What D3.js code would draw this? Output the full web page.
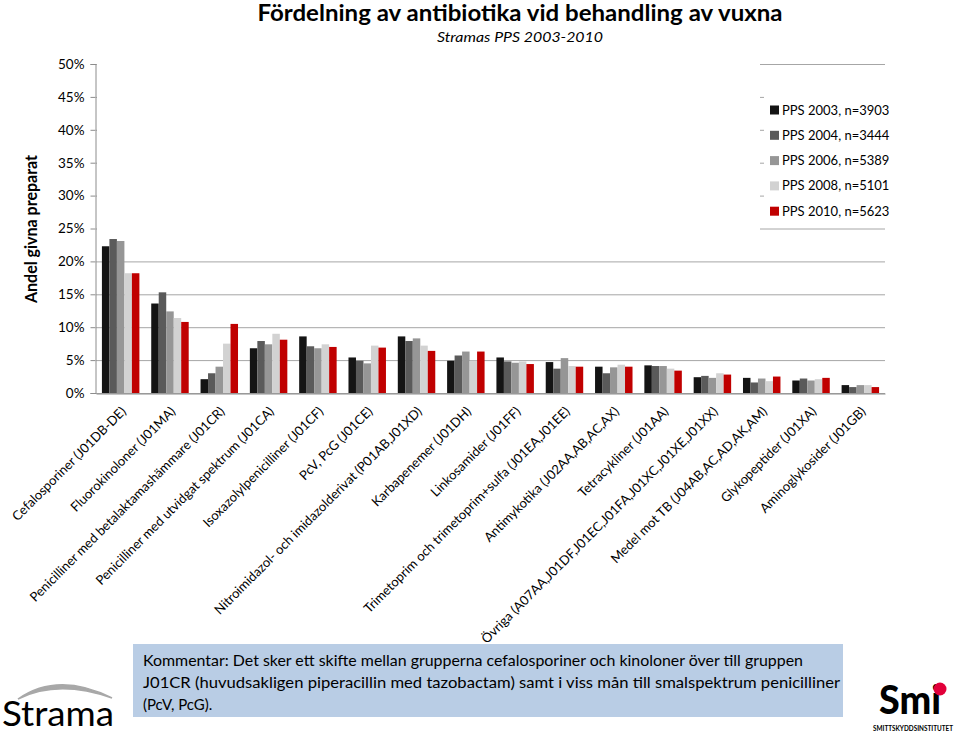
<!DOCTYPE html>
<html><head><meta charset="utf-8">
<script src="https://cdn.jsdelivr.net/npm/d3@7"></script>
<style>
body{margin:0;background:#fff;}
svg{display:block;}
text{font-family:Lato,"Open Sans",sans-serif;fill:#000;}
</style>
</head><body>
<svg id="chart" width="960" height="732"></svg>
<script>
const categories = [
  "Cefalosporiner (J01DB-DE)",
  "Fluorokinoloner (J01MA)",
  "Penicilliner med betalaktamashämmare (J01CR)",
  "Penicilliner med utvidgat spektrum (J01CA)",
  "Isoxazolylpenicilliner (J01CF)",
  "PcV, PcG (J01CE)",
  "Nitroimidazol- och imidazolderivat (P01AB,J01XD)",
  "Karbapenemer (J01DH)",
  "Linkosamider (J01FF)",
  "Trimetoprim och trimetoprim+sulfa (J01EA,J01EE)",
  "Antimykotika (J02AA,AB,AC,AX)",
  "Tetracykliner (J01AA)",
  "Övriga (A07AA,J01DF,J01EC,J01FA,J01XC,J01XE,J01XX)",
  "Medel mot TB (J04AB,AC,AD,AK,AM)",
  "Glykopeptider (J01XA)",
  "Aminoglykosider (J01GB)"
];
const seriesNames = ["PPS 2003, n=3903","PPS 2004, n=3444","PPS 2006, n=5389","PPS 2008, n=5101","PPS 2010, n=5623"];
const pps2003 = [22.3, 13.6, 2.1, 6.8, 8.6, 5.4, 8.6, 4.9, 5.4, 4.7, 4.0, 4.2, 2.4, 2.3, 1.9, 1.2];
const pps2004 = [23.4, 15.3, 3.0, 7.9, 7.1, 4.9, 7.9, 5.7, 4.8, 3.7, 3.0, 4.1, 2.6, 1.6, 2.2, 0.9];
const pps2006 = [23.1, 12.4, 4.0, 7.4, 6.8, 4.5, 8.3, 6.3, 4.6, 5.3, 3.9, 4.1, 2.3, 2.2, 1.9, 1.2];
const pps2008 = [18.2, 11.4, 7.5, 9.0, 7.4, 7.2, 7.2, 4.9, 4.8, 4.1, 4.3, 3.7, 3.0, 1.8, 2.1, 1.2];
const pps2010 = [18.2, 10.8, 10.5, 8.1, 7.0, 6.9, 6.4, 6.3, 4.4, 4.0, 4.0, 3.4, 2.8, 2.5, 2.3, 0.9];
const seriesValues = [pps2003, pps2004, pps2006, pps2008, pps2010];
const seriesColors = ["#141414","#5a5a5a","#969696","#d2d2d2","#c00000"];
const yTicks = [0,5,10,15,20,25,30,35,40,45,50];
const titleText = "Fördelning av antibiotika vid behandling av vuxna";
const subtitleText = "Stramas PPS 2003-2010";
const yTitleText = "Andel givna preparat";
const commentLines = [
  "Kommentar: Det sker ett skifte mellan grupperna cefalosporiner och kinoloner över till gruppen",
  "J01CR (huvudsakligen piperacillin med tazobactam) samt i viss mån till smalspektrum penicilliner",
  "(PcV, PcG)."
];

const svg = d3.select("#chart");
const pLeft = 96, pRight = 885, pTop = 64, pBottom = 393;
const y = d3.scaleLinear().domain([0,50]).range([pBottom, pTop]);
const x0 = d3.scaleBand().domain(categories).range([pLeft, pRight]);
const x1 = d3.scaleBand().domain(seriesNames).range([0, x0.bandwidth()]).paddingOuter(0.79);

// Gridlines
const grid = svg.append("g").attr("transform",`translate(${pLeft},0)`)
  .call(d3.axisLeft(y).tickValues(yTicks).tickSize(-(pRight-pLeft)).tickFormat(""));
grid.select(".domain").remove();
grid.selectAll("line").attr("stroke","#a6a6a6").attr("stroke-width",1);

// White title panel lying over the upper part of the plot area
svg.append("rect").attr("x", 97).attr("y", 0).attr("width", 663).attr("height", 236).attr("fill","#fff");

// Title
svg.append("text").attr("x", 520).attr("y", 21).attr("text-anchor","middle")
  .attr("font-size", 22).attr("font-weight","bold")
  .attr("textLength", 525).attr("lengthAdjust","spacingAndGlyphs").text(titleText);
svg.append("text").attr("x", 520).attr("y", 42).attr("text-anchor","middle")
  .attr("font-size", 14).attr("font-style","italic")
  .attr("textLength", 166).attr("lengthAdjust","spacingAndGlyphs").text(subtitleText);

// Y axis
const yAxis = svg.append("g").attr("transform",`translate(${pLeft-0.5},0)`)
  .call(d3.axisLeft(y).tickValues(yTicks).tickSize(5).tickPadding(6).tickFormat(d => d + "%"));
yAxis.select(".domain").attr("stroke","#8c8c8c");
yAxis.selectAll("line").attr("stroke","#8c8c8c");
yAxis.selectAll("text").attr("font-size", 13.5).attr("font-family","Lato, sans-serif").attr("fill","#000");

// Y title
svg.append("text").attr("transform","translate(37,229) rotate(-90)").attr("text-anchor","middle")
  .attr("font-size", 17).attr("font-weight","bold")
  .attr("textLength", 148).attr("lengthAdjust","spacingAndGlyphs").text(yTitleText);

// Bars
const groups = svg.append("g").selectAll("g").data(categories).join("g")
  .attr("transform", d => `translate(${x0(d)},0)`);
groups.selectAll("rect").data((d,i) => seriesNames.map((s,j) => ({s, v: seriesValues[j][i], j})))
  .join("rect")
  .attr("x", d => x1(d.s)).attr("width", x1.bandwidth())
  .attr("y", d => y(d.v)).attr("height", d => y(0) - y(d.v))
  .attr("fill", d => seriesColors[d.j]);

// X axis line
const xAxis = svg.append("g").attr("transform",`translate(0,${pBottom + 0.5})`)
  .call(d3.axisBottom(x0).tickSize(0).tickFormat(""));
xAxis.select(".domain").attr("stroke","#8c8c8c");

// X labels
svg.append("g").selectAll("text").data(categories).join("text")
  .attr("transform", d => `translate(${x0(d) + x0.bandwidth()/2 + 3},409) rotate(-45)`)
  .attr("text-anchor","end").attr("dy","0.35em")
  .attr("font-size", 13).text(d => d);

// Legend
const lg = svg.append("g");
lg.append("rect").attr("x", 764).attr("y", 95).attr("width", 191).attr("height", 130).attr("fill","#fff");
const li = lg.selectAll("g").data(seriesNames).join("g")
  .attr("transform", (d,i) => `translate(770,${110 + i*25.3})`);
li.append("rect").attr("x",0).attr("y",-4.5).attr("width",9).attr("height",9)
  .attr("fill", (d,i) => seriesColors[i]);
li.append("text").attr("x", 12).attr("dy","0.35em").attr("font-size", 13).text(d => d);

// Comment box
svg.append("rect").attr("x",133).attr("y",644).attr("width",710).attr("height",73).attr("fill","#b9cde5");
const lens = [660, 697, null];
commentLines.forEach((t,i) => {
  const tx = svg.append("text").attr("x",143).attr("y", 666 + i*22).attr("font-size",15).text(t);
  if (lens[i]) tx.attr("textLength", lens[i]).attr("lengthAdjust","spacingAndGlyphs");
});

// Strama logo
svg.append("path").attr("d","M18,699 Q58,671 112,698 Q58,679 18,699 Z").attr("fill","#a8a8a8").attr("stroke","#a8a8a8").attr("stroke-width",1.5);
svg.append("text").attr("x",2).attr("y",726).attr("font-size",34).attr("font-family","'Open Sans',sans-serif")
  .attr("fill","#a61e32").attr("textLength",112).attr("lengthAdjust","spacingAndGlyphs").text("Strama");

// Smi logo
svg.append("text").attr("x",879).attr("y",714).attr("font-size",40).attr("font-weight",900)
  .attr("font-family","Lato, sans-serif").attr("textLength",62).attr("lengthAdjust","spacingAndGlyphs").text("Smi");
svg.append("circle").attr("cx",940).attr("cy",689).attr("r",6.5).attr("fill","#e2003a");
svg.append("text").attr("x",913).attr("y",731).attr("text-anchor","middle").attr("font-size",6.5).attr("font-weight","bold")
  .attr("textLength",80).attr("lengthAdjust","spacingAndGlyphs").text("SMITTSKYDDSINSTITUTET");
</script>
</body></html>
